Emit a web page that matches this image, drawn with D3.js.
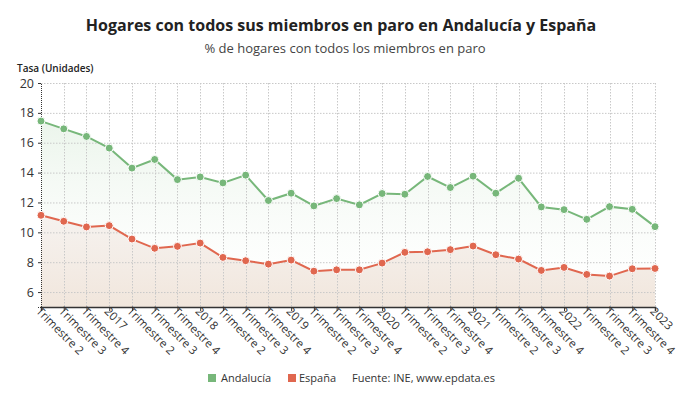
<!DOCTYPE html>
<html><head><meta charset="utf-8">
<script src="https://cdn.jsdelivr.net/npm/d3@7"></script>
<style>
body{margin:0;background:#fff;}
svg{font-family:"Open Sans",sans-serif;}
</style></head>
<body><svg id="c" width="690" height="406"></svg>
<script>
const categories = ["Trimestre 2","Trimestre 3","Trimestre 4","2017","Trimestre 2","Trimestre 3","Trimestre 4","2018","Trimestre 2","Trimestre 3","Trimestre 4","2019","Trimestre 2","Trimestre 3","Trimestre 4","2020","Trimestre 2","Trimestre 3","Trimestre 4","2021","Trimestre 2","Trimestre 3","Trimestre 4","2022","Trimestre 2","Trimestre 3","Trimestre 4","2023"];
const andalucia = [17.45,16.93,16.42,15.64,14.30,14.88,13.53,13.71,13.31,13.83,12.13,12.62,11.77,12.26,11.84,12.60,12.55,13.74,13.00,13.76,12.62,13.62,11.70,11.52,10.87,11.72,11.54,10.38];
const espana = [11.14,10.74,10.36,10.45,9.55,8.93,9.06,9.28,8.32,8.10,7.87,8.14,7.40,7.49,7.49,7.94,8.66,8.70,8.84,9.08,8.50,8.21,7.45,7.65,7.18,7.07,7.56,7.58];
const yTicks = [6,8,10,12,14,16,18,20];

const svg = d3.select("#c");
const L=41,R=655,T=83,B=307;
const idx = d3.range(categories.length);
const x = d3.scalePoint().domain(idx).range([L,R]);
const y = d3.scaleLinear().domain([5,20]).range([B,T]);
const green="#77b77a", red="#e0674f";

const defs = svg.append("defs");
const g1 = defs.append("linearGradient").attr("id","gg").attr("x1",0).attr("y1",0).attr("x2",0).attr("y2",1);
g1.append("stop").attr("offset","0%").attr("stop-color","#e6f2e6").attr("stop-opacity",0.8);
g1.append("stop").attr("offset","100%").attr("stop-color","#ffffff").attr("stop-opacity",0.2);
const g2 = defs.append("linearGradient").attr("id","rg").attr("x1",0).attr("y1",0).attr("x2",0).attr("y2",1);
g2.append("stop").attr("offset","0%").attr("stop-color","#f5f1ee").attr("stop-opacity",0.9);
g2.append("stop").attr("offset","100%").attr("stop-color","#f1e6dc").attr("stop-opacity",1);

// areas
svg.append("path").datum(idx).attr("fill","url(#gg)")
  .attr("d",d3.area().x(i=>x(i)).y0(B).y1(i=>y(andalucia[i])));
svg.append("path").datum(idx).attr("fill","url(#rg)")
  .attr("d",d3.area().x(i=>x(i)).y0(B).y1(i=>y(espana[i])));

// grid
const grid = svg.append("g").attr("stroke","#c8c8c8").attr("stroke-dasharray","1.5,1.5").attr("stroke-width",1);
yTicks.forEach(t=>grid.append("line").attr("x1",L).attr("x2",R).attr("y1",y(t)+0.5).attr("y2",y(t)+0.5));
idx.forEach(i=>{ if(i>0) grid.append("line").attr("x1",Math.round(x(i))+0.5).attr("x2",Math.round(x(i))+0.5).attr("y1",T).attr("y2",B);});

// axes
const ya = svg.append("g").attr("transform",`translate(${L},0)`)
  .call(d3.axisLeft(y).tickValues(yTicks).tickSize(3).tickFormat(d3.format("d")));
ya.select(".domain").attr("stroke","#333").attr("stroke-dasharray","1,1");
ya.selectAll("text").attr("font-size",12.5).attr("fill","#333").attr("font-family","Open Sans").attr("dx",-1);
ya.selectAll(".tick line").attr("stroke","#333");

const xa = svg.append("g").attr("transform",`translate(0,${B})`)
  .call(d3.axisBottom(x).tickSize(4).tickFormat(i=>categories[i]));
xa.select(".domain").attr("stroke","#333").attr("stroke-width",1.5);
xa.selectAll(".tick line").attr("stroke","#333");
xa.selectAll("text").attr("font-size",11.5).attr("fill","#333").attr("font-family","Open Sans")
  .attr("text-anchor","start").attr("dy",0).attr("y",0)
  .attr("transform","translate(-6,5) rotate(45)");

// lines & points
[[andalucia,green],[espana,red]].forEach(([data,col])=>{
  svg.append("path").datum(idx).attr("fill","none").attr("stroke",col).attr("stroke-width",2)
    .attr("d",d3.line().x(i=>x(i)).y(i=>y(data[i])));
  svg.append("g").selectAll("circle").data(idx).join("circle")
    .attr("cx",i=>x(i)).attr("cy",i=>y(data[i])).attr("r",4).attr("fill",col)
    .attr("stroke","#fff").attr("stroke-width",1);
});

// titles
svg.append("text").attr("x",341).attr("y",31).attr("text-anchor","middle")
  .attr("font-size",16).attr("font-weight","bold").attr("fill","#222")
  .text("Hogares con todos sus miembros en paro en Andalucía y España");
svg.append("text").attr("x",345).attr("y",53).attr("text-anchor","middle")
  .attr("font-size",13).attr("fill","#444")
  .text("% de hogares con todos los miembros en paro");
svg.append("text").attr("x",17).attr("y",72).attr("font-size",10).attr("font-weight",600).attr("fill","#222")
  .text("Tasa (Unidades)");

// legend
const lg = svg.append("g").attr("font-size",11).attr("fill","#333");
lg.append("rect").attr("x",208).attr("y",374).attr("width",8).attr("height",8).attr("fill",green);
lg.append("text").attr("x",221).attr("y",382).text("Andalucía");
lg.append("rect").attr("x",288).attr("y",374).attr("width",8).attr("height",8).attr("fill",red);
lg.append("text").attr("x",299).attr("y",382).text("España");
lg.append("text").attr("x",352).attr("y",382).text("Fuente: INE, www.epdata.es");
</script></body></html>
